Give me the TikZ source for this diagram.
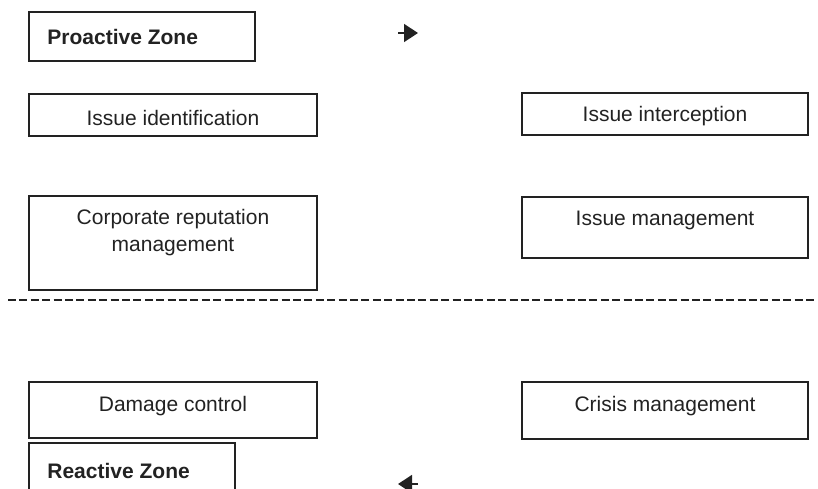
\documentclass[tikz,border=0pt]{standalone}
\usepackage{fontspec}
\setmainfont{Liberation Sans}
\usepackage{xcolor}
\usetikzlibrary{arrows.meta}

\definecolor{inkgray}{HTML}{222222}

\begin{document}
\begin{tikzpicture}[x=0.5pt, y=-0.5pt,
  zonebox/.style={draw=inkgray, line width=0.75pt, rectangle, inner sep=0pt},
  boxtext/.style={text=inkgray, font=\fontsize{10.5}{13.5}\selectfont, inner sep=0pt, align=center},
  zonetext/.style={boxtext, font=\fontsize{10.5}{13.5}\selectfont\bfseries, anchor=west}]
\useasboundingbox (0,0) rectangle (818,488);

% boxes
\node[zonebox, minimum width=113pt, minimum height=24.5pt] (pz) at (142,36.5) {};
\node[zonebox, minimum width=144pt, minimum height=21pt] (ii) at (173,115) {};
\node[zonebox, minimum width=143pt, minimum height=21pt] (iint) at (665,114) {};
\node[zonebox, minimum width=144pt, minimum height=47pt] (crm) at (173,243) {};
\node[zonebox, minimum width=143pt, minimum height=30.5pt] (im) at (665,227.5) {};
\node[zonebox, minimum width=144pt, minimum height=28pt] (dmg) at (173,410) {};
\node[zonebox, minimum width=143pt, minimum height=28.5pt] (cm) at (665,410.5) {};
\node[zonebox, minimum width=103pt, minimum height=30pt] (rz) at (132,473) {};

% texts
\node[zonetext] (pzt) at (47,37) {Proactive Zone};
\node[boxtext] (iit) at (173,118) {Issue identification};
\node[boxtext] (iintt) at (665,116) {Issue interception};
\node[boxtext] (crmt) at (173,233) {Corporate reputation\\management};
\node[boxtext] (imt) at (665,220) {Issue management};
\node[boxtext] (dmgt) at (173,406) {Damage control};
\node[boxtext] (cmt) at (665,406) {Crisis management};
\node[zonetext] (rzt) at (47,471) {Reactive Zone};

% divider
\coordinate (dl) at (8,300);
\coordinate (dr) at (817,300);
\draw[inkgray, line width=0.75pt, dash pattern=on 4pt off 1.7pt] (dl) -- (dr);

% arrows
\coordinate (ta) at (398,33);
\coordinate (tb) at (418,33);
\coordinate (ba) at (418,484);
\coordinate (bb) at (398,484);
\draw[inkgray, line width=0.75pt, -{Triangle[length=7pt,width=9pt]}] (ta) -- (tb);
\draw[inkgray, line width=0.75pt, -{Triangle[length=7pt,width=9pt]}] (ba) -- (bb);
\end{tikzpicture}
\end{document}
